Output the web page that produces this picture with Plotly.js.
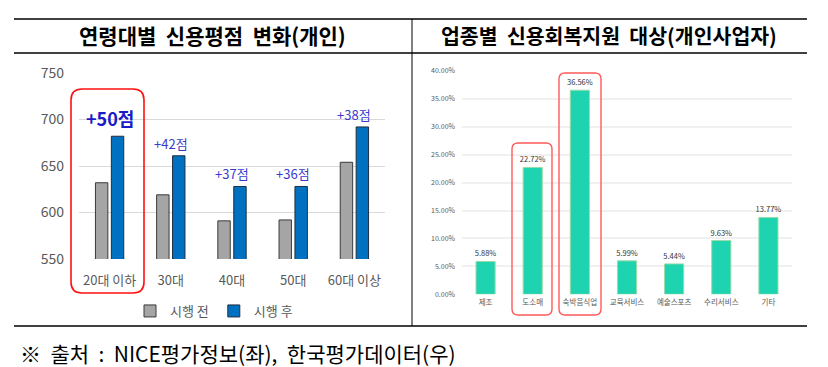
<!DOCTYPE html>
<html><head><meta charset="utf-8">
<script src="https://cdn.plot.ly/plotly-3.0.1.min.js"></script>
<style>html,body{margin:0;padding:0;background:#fff;}#chart{width:828px;height:367px;}</style>
</head><body><div id="chart"></div>
<script>
// ---- data ----
const ageGroups = ['20대 이하', '30대', '40대', '50대', '60대 이상'];
const scoreBefore = [632, 619, 591, 592, 654];
const scoreAfter = [682, 661, 628, 628, 692];
const gainLabels = ['+50점', '+42점', '+37점', '+36점', '+38점'];
const industries = ['제조', '도소매', '숙박음식업', '교육서비스', '예술스포츠', '수리서비스', '기타'];
const industryShare = [5.88, 22.72, 36.56, 5.99, 5.44, 9.63, 13.77];
const leftTitle = '연령대별&nbsp;&nbsp;신용평점&nbsp;&nbsp;변화(개인)';
const rightTitle = '업종별&nbsp;&nbsp;신용회복지원&nbsp;&nbsp;대상(개인사업자)';
const sourceNote = '※&nbsp;&nbsp;출처&nbsp;&nbsp;:&nbsp;&nbsp;NICE평가정보(좌),&nbsp;&nbsp;한국평가데이터(우)';

const W = 828, H = 367;
const px = x => x / W, py = y => 1 - y / H;
const FONT = '"Noto Sans CJK KR", "Noto Sans", sans-serif';

function roundRect(x0, y0, x1, y1, r) {
  const p = (x, y) => px(x) + ',' + py(y);
  return 'M' + p(x0 + r, y0) + ' L' + p(x1 - r, y0) + ' Q' + p(x1, y0) + ' ' + p(x1, y0 + r) +
    ' L' + p(x1, y1 - r) + ' Q' + p(x1, y1) + ' ' + p(x1 - r, y1) +
    ' L' + p(x0 + r, y1) + ' Q' + p(x0, y1) + ' ' + p(x0, y1 - r) +
    ' L' + p(x0, y0 + r) + ' Q' + p(x0, y0) + ' ' + p(x0 + r, y0) + ' Z';
}

const traces = [
  {type: 'bar', x: ageGroups, y: scoreBefore, name: '시행 전', xaxis: 'x', yaxis: 'y',
   marker: {color: '#a5a5a5', line: {color: '#3a3a3a', width: 1}}, hoverinfo: 'none'},
  {type: 'bar', x: ageGroups, y: scoreAfter, name: '시행 후', xaxis: 'x', yaxis: 'y',
   marker: {color: '#0070c0', line: {color: '#1f2f3f', width: 1}}, hoverinfo: 'none'},
  {type: 'bar', x: industries, y: industryShare, xaxis: 'x2', yaxis: 'y2', showlegend: false,
   marker: {color: '#1dd3b0', line: {color: '#9adba8', width: 1}},
   texttemplate: '%{y:.2f}%', textposition: 'outside', cliponaxis: false, constraintext: 'none',
   textfont: {size: 7.5, color: '#333333', family: FONT}, hoverinfo: 'none'}
];

const annotations = ageGroups.map((g, i) => ({
  xref: 'x', yref: 'y', x: g, y: scoreAfter[i], yanchor: 'bottom', xanchor: 'center',
  yshift: i === 0 ? 3 : 1, showarrow: false, text: i === 0 ? '<b>' + gainLabels[i] + '</b>' : gainLabels[i],
  font: {family: FONT, size: i === 0 ? 18 : 13, color: i === 0 ? '#1a1ac8' : '#3a3ad0'}
}));
annotations.push(
  {xref: 'paper', yref: 'paper', x: px(213), y: py(35), xanchor: 'center', yanchor: 'middle', showarrow: false,
   text: '<b>' + leftTitle + '</b>', font: {family: FONT, size: 21, color: '#000'}},
  {xref: 'paper', yref: 'paper', x: px(609), y: py(35), xanchor: 'center', yanchor: 'middle', showarrow: false,
   text: '<b>' + rightTitle + '</b>', font: {family: FONT, size: 20.5, color: '#000'}},
  {xref: 'paper', yref: 'paper', x: px(18), y: py(353), xanchor: 'left', yanchor: 'middle', showarrow: false,
   text: sourceNote, font: {family: FONT, size: 21, color: '#000'}}
);

const lineStyle = {color: '#000', width: 1.3};
const shapes = [
  {type: 'line', xref: 'paper', yref: 'paper', x0: px(14), x1: px(807), y0: py(19), y1: py(19), line: lineStyle},
  {type: 'line', xref: 'paper', yref: 'paper', x0: px(14), x1: px(807), y0: py(53), y1: py(53), line: lineStyle},
  {type: 'line', xref: 'paper', yref: 'paper', x0: px(14), x1: px(807), y0: py(326), y1: py(326), line: lineStyle},
  {type: 'line', xref: 'paper', yref: 'paper', x0: px(412), x1: px(412), y0: py(19), y1: py(326), line: {color: '#000', width: 1}},
  {type: 'path', xref: 'paper', yref: 'paper', path: roundRect(71, 89, 144, 293, 11), line: {color: '#ff1010', width: 1.6}},
  {type: 'path', xref: 'paper', yref: 'paper', path: roundRect(512, 143, 552, 315, 6), line: {color: '#ff5a5a', width: 1.4}},
  {type: 'path', xref: 'paper', yref: 'paper', path: roundRect(559, 73, 601, 315, 6), line: {color: '#ff5a5a', width: 1.4}}
];

const layout = {
  width: W, height: H, margin: {l: 0, r: 0, t: 0, b: 0},
  paper_bgcolor: '#fff', plot_bgcolor: '#fff',
  font: {family: FONT, color: '#595959'},
  barmode: 'group', bargap: 0.48, bargroupgap: 0.22,
  xaxis: {domain: [px(79), px(385)], tickfont: {size: 13, color: '#595959'}, showgrid: false,
          ticks: '', showline: false, fixedrange: true, ticklabelstandoff: 12},
  yaxis: {domain: [py(259), py(73)], range: [550, 750], dtick: 50, tick0: 550,
          tickfont: {size: 14, color: '#595959'}, gridcolor: '#d9d9d9', gridwidth: 1,
          zeroline: false, showline: false, ticks: '', ticklabelstandoff: 14},
  xaxis2: {domain: [px(462), px(792)], anchor: 'y2', tickfont: {size: 7.5, color: '#595959'},
           showgrid: false, ticks: '', showline: false, ticklabelstandoff: 2},
  yaxis2: {domain: [py(294.3), py(71)], anchor: 'x2', range: [0, 40], dtick: 5,
           tickformat: '.2f', ticksuffix: '%', tickfont: {size: 7, color: '#595959'},
           gridcolor: '#f0f0f0', gridwidth: 2, zeroline: false, showline: false, ticks: '', ticklabelstandoff: 6},
  legend: {orientation: 'h', x: px(214), y: py(311), xanchor: 'center', yanchor: 'middle',
           font: {size: 13, color: '#595959'}, itemwidth: 30, bgcolor: 'rgba(0,0,0,0)'},
  annotations: annotations, shapes: shapes, showlegend: true
};
Plotly.newPlot('chart', traces, layout, {staticPlot: true});
</script></body></html>
